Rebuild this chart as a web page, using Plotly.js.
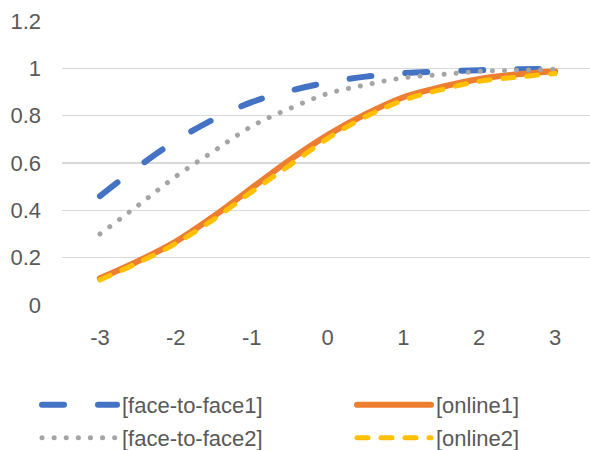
<!DOCTYPE html>
<html>
<head>
<meta charset="utf-8">
<script src="https://cdn.plot.ly/plotly-3.0.1.min.js"></script>
<style>
  html, body { margin: 0; padding: 0; background: #fff; }
  #chart { width: 590px; height: 450px; }
  /* rounded dash ends, as in office-style line charts */
  .js-line { stroke-linecap: round; stroke-linejoin: round; }
</style>
</head>
<body>
<div id="chart"></div>
<script>
// ability levels (theta)
const theta = [-3, -2.5, -2, -1.5, -1, -0.5, 0, 0.5, 1, 1.5, 2, 2.5, 3];

// probability curves per group
const faceToFace1 = [0.46, 0.583, 0.694, 0.785, 0.857, 0.905, 0.94, 0.965, 0.98, 0.987, 0.992, 0.996, 0.998];
const online1     = [0.113, 0.185, 0.268, 0.375, 0.494, 0.612, 0.718, 0.806, 0.878, 0.921, 0.955, 0.975, 0.988];
const faceToFace2 = [0.30, 0.42, 0.543, 0.65, 0.755, 0.83, 0.893, 0.93, 0.96, 0.974, 0.987, 0.992, 0.996];
const online2     = [0.106, 0.178, 0.26, 0.362, 0.478, 0.59, 0.703, 0.795, 0.865, 0.91, 0.945, 0.963, 0.978];

const seriesNames = ['[face-to-face1]', '[online1]', '[face-to-face2]', '[online2]'];

const yTicks = [0, 0.2, 0.4, 0.6, 0.8, 1, 1.2];
const yTickText = ['0', '0.2', '0.4', '0.6', '0.8', '1', '1.2'];
const xTicks = [-3, -2, -1, 0, 1, 2, 3];
const xTickText = ['-3', '-2', '-1', '0', '1', '2', '3'];

const FONT = 'Liberation Sans, Arial, sans-serif';
const TXT = '#595959';
const W = 590, H = 450;

const traces = [
  { x: theta, y: faceToFace1, name: seriesNames[0], legend: 'legend',
    line: { color: '#4472C4', width: 6, dash: '22px,34px', shape: 'spline', smoothing: 1 } },
  { x: theta, y: online1, name: seriesNames[1], legend: 'legend2',
    line: { color: '#ED7D31', width: 6, shape: 'spline', smoothing: 1 } },
  { x: theta, y: faceToFace2, name: seriesNames[2], legend: 'legend3',
    line: { color: '#A5A5A5', width: 5, dash: '0.1px,12px', shape: 'spline', smoothing: 1 } },
  { x: theta, y: online2, name: seriesNames[3], legend: 'legend4',
    line: { color: '#FFC000', width: 5, dash: '11px,13px', shape: 'spline', smoothing: 1 } }
].map(t => Object.assign({ type: 'scatter', mode: 'lines', hoverinfo: 'skip' }, t));

// one legend box per entry, laid out as a 2 x 2 grid under the plot
function legendAt(left, centerY, itemwidth) {
  return {
    orientation: 'h',
    xref: 'container', yref: 'container',
    x: left / W, xanchor: 'left',
    y: 1 - centerY / H, yanchor: 'middle',
    itemwidth: itemwidth,
    bgcolor: 'rgba(0,0,0,0)', borderwidth: 0,
    font: { family: FONT, size: 22, color: TXT }
  };
}

const layout = {
  width: W, height: H,
  paper_bgcolor: '#fff', plot_bgcolor: '#fff',
  margin: { l: 62, r: 0, t: 21, b: 145 },
  font: { family: FONT, size: 22, color: TXT },
  showlegend: true,
  xaxis: {
    range: [-3.5, 3.46], tickvals: xTicks, ticktext: xTickText,
    showgrid: false, zeroline: false, showline: false, ticks: '',
    ticklabelstandoff: 17, fixedrange: true, automargin: false
  },
  yaxis: {
    range: [0, 1.2], tickvals: yTicks, ticktext: yTickText,
    showgrid: true, gridcolor: '#D9D9D9', gridwidth: 1.5,
    zeroline: false, showline: false, ticks: '',
    ticklabelstandoff: 20, fixedrange: true, automargin: false
  },
  legend:  legendAt(37, 405, 75),
  legend2: legendAt(352, 405, 74),
  legend3: legendAt(37, 438, 75),
  legend4: legendAt(352, 438, 74)
};

Plotly.newPlot('chart', traces, layout, { staticPlot: true, displayModeBar: false });
</script>
</body>
</html>
